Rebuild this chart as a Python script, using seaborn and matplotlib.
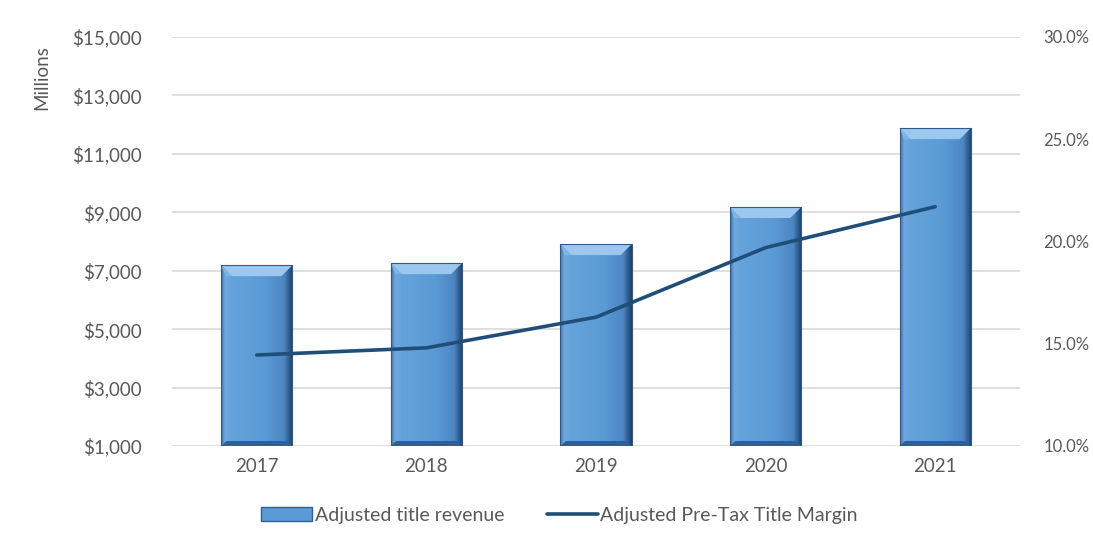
import numpy as np
import pandas as pd
import matplotlib
matplotlib.use("Agg")
import matplotlib.pyplot as plt
from matplotlib.colors import LinearSegmentedColormap
from matplotlib.patches import Polygon, Patch
from matplotlib.lines import Line2D
import seaborn as sns

years = ["2017", "2018", "2019", "2020", "2021"]
revenue = [7190, 7260, 7910, 9180, 11880]          # $ millions
margin = [14.45, 14.8, 16.3, 19.7, 21.7]          # percent

left_ticks = [1000, 3000, 5000, 7000, 9000, 11000, 13000, 15000]
right_ticks = [10, 15, 20, 25, 30]

sns.set_theme(style="white")
plt.rcParams['font.family'] = ['Lato', 'DejaVu Sans']

gray = "#595959"
fs = 13.5
df = pd.DataFrame({"year": years, "revenue": revenue, "margin": margin})

fig = plt.figure(figsize=(10.93, 5.40), dpi=100)
ax = fig.add_axes([172/1093, 1-446/540, (1020-172)/1093, (446-37)/540])

sns.barplot(data=df, x="year", y="revenue", ax=ax, color="#5B9BD5",
            width=0.42, edgecolor="none", zorder=2)

ax.set_ylim(1000, 15000)
ax.set_yticks(left_ticks)
ax.set_yticklabels([f"${v:,.0f}" for v in left_ticks])
xlim = ax.get_xlim()

# gradient shading of the bars (beveled look)
cmap = LinearSegmentedColormap.from_list(
    "bev", [(0.0, "#3E74B0"), (0.06, "#6FA9DE"), (0.15, "#64A2DA"),
            (0.6, "#5B9BD5"), (0.88, "#4C87C3"), (0.95, "#2E5B8E"), (1.0, "#1F3F66")])
grad = np.linspace(0, 1, 256).reshape(1, -1)
fig.canvas.draw()
px_per_y = ax.transData.transform((0, 1000))[1] - ax.transData.transform((0, 0))[1]
px_per_x = ax.transData.transform((1, 0))[0] - ax.transData.transform((0, 0))[0]
bev_h = 11 / px_per_y * 1000
bev_w = 11 / px_per_x
bot_h = 5 / px_per_y * 1000
for p in list(ax.patches):
    x0, y0 = p.get_x(), p.get_y()
    w, h = p.get_width(), p.get_height()
    y0 = max(y0, 1000)
    top = p.get_y() + h
    ax.imshow(grad, cmap=cmap, aspect="auto", extent=(x0, x0 + w, y0, top),
              zorder=3, interpolation="bilinear")
    # top bevel
    ax.add_patch(Polygon([(x0, top), (x0 + w, top), (x0 + w - bev_w, top - bev_h),
                          (x0 + bev_w, top - bev_h)], closed=True,
                         facecolor="#9CC8F0", edgecolor="none", zorder=4))
    ax.add_patch(Polygon([(x0, top), (x0 + bev_w, top - bev_h),
                          (x0 + bev_w * 0.4, top - bev_h)], closed=True,
                         facecolor="#7DB4E6", edgecolor="none", zorder=4))
    # bottom bevel
    ax.add_patch(Polygon([(x0, y0), (x0 + w, y0), (x0 + w - bev_w * 0.5, y0 + bot_h),
                          (x0 + bev_w * 0.5, y0 + bot_h)], closed=True,
                         facecolor="#2F5F94", edgecolor="none", zorder=4))
    # outline
    p.set_facecolor("none")
    p.set_edgecolor("#2E5A8A")
    p.set_linewidth(0.8)
    p.set_zorder(5)

ax.set_xlim(xlim)
ax.set_ylim(1000, 15000)
ax.grid(axis="y", color="#D9D9D9", linewidth=1.2, zorder=0)
ax.set_axisbelow(True)
for s in ax.spines.values():
    s.set_visible(False)
ax.tick_params(axis="y", length=0, pad=22, labelsize=fs, labelcolor=gray)
ax.tick_params(axis="x", length=0, pad=9, labelsize=fs, labelcolor=gray)
ax.set_xlabel("")
ax.set_ylabel("Millions", fontsize=fs, color=gray)
ax.yaxis.set_label_coords(-0.143, 0.902)

ax2 = ax.twinx()
sns.pointplot(data=df, x="year", y="margin", ax=ax2, color="#1F4E79",
              markers="", linewidth=2.6, errorbar=None)
ax2.set_xlim(xlim)
ax2.set_ylim(10, 30)
ax2.set_yticks(right_ticks)
ax2.set_yticklabels([f"{v:.1f}%" for v in right_ticks])
ax2.tick_params(axis="y", length=0, pad=17, labelsize=12, labelcolor=gray)
ax2.set_ylabel("")
ax2.grid(False)
for s in ax2.spines.values():
    s.set_visible(False)

handles = [Patch(facecolor="#5B9BD5", edgecolor="#2F5F94", linewidth=1),
           Line2D([0], [0], color="#1F4E79", linewidth=2.6)]
leg = fig.legend(handles, ["Adjusted title revenue", "Adjusted Pre-Tax Title Margin"],
                 loc="center", bbox_to_anchor=(0.512, 0.046), ncol=2, frameon=False,
                 fontsize=14, handlelength=2.6, handletextpad=0.15, columnspacing=2.2)
for t in leg.get_texts():
    t.set_color(gray)

fig.savefig("out.png", dpi=100)
